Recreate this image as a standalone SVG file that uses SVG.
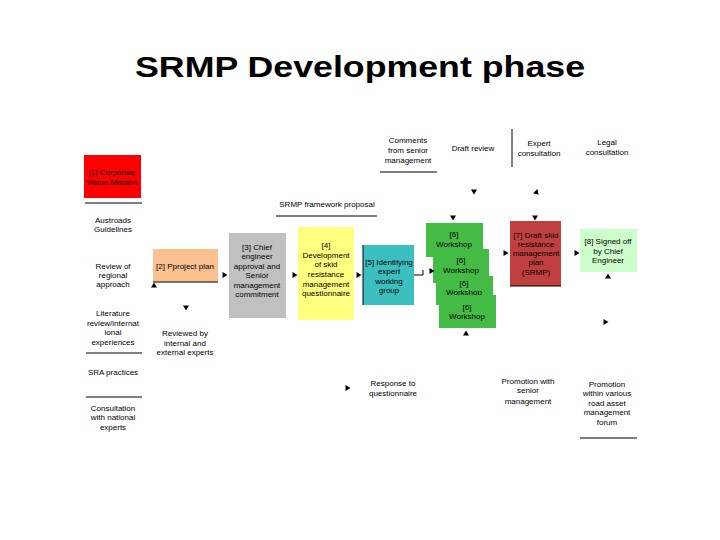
<svg xmlns="http://www.w3.org/2000/svg" xmlns:xlink="http://www.w3.org/1999/xlink" width="720" height="540" viewBox="0 0 720 540">
<style>
text{font-family:"Liberation Sans",Arial,sans-serif;font-size:8px;fill:#000;text-anchor:middle}
.title{font-size:30px;font-weight:bold}
.ln{stroke:#000;stroke-width:1;fill:none}
.ws{fill:#44bb44}
</style>
<defs>
<path id="ad" d="M-3,-2.5 L3,-2.5 L0,2.5 Z" fill="#000"/>
<path id="au" d="M-3,2.5 L3,2.5 L0,-2.5 Z" fill="#000"/>
<path id="ar" d="M-2.5,-3 L-2.5,3 L2.5,0 Z" fill="#000"/>
</defs>
<rect width="720" height="540" fill="#fff"/>
<text class="title" x="360" y="77" textLength="450" lengthAdjust="spacingAndGlyphs">SRMP Development phase</text>

<g id="n1"><rect x="84" y="155" width="57" height="43" fill="#ff0000"/><text x="112" y="175">[1] Corporate</text><text x="112" y="185">Vision Mission</text></g>
<g id="austroads"><text x="113" y="223">Austroads</text><text x="113" y="232">Guidelines</text></g>
<g id="review"><text x="113" y="269">Review of</text><text x="113" y="278">regional</text><text x="113" y="287">approach</text></g>
<g id="lit"><text x="113" y="316">Literature</text><text x="113" y="326">review/internat</text><text x="113" y="335">ional</text><text x="113" y="345">experiences</text></g>
<g id="sra"><text x="113" y="375">SRA practices</text></g>
<g id="consult"><text x="113" y="411">Consultation</text><text x="113" y="420">with national</text><text x="113" y="430">experts</text></g>
<g id="n2"><rect x="153" y="249" width="65" height="33" fill="#fac090"/><text x="185" y="269">[2] Pproject plan</text></g>
<g id="reviewed"><text x="185" y="336">Reviewed by</text><text x="185" y="346">internal and</text><text x="185" y="355">external experts</text></g>
<g id="n3"><rect x="229" y="233" width="57" height="85" fill="#c0c0c0"/><text x="257" y="250">[3] Chief</text><text x="257" y="259">engineer</text><text x="257" y="269">approval and</text><text x="257" y="278">Senior</text><text x="257" y="288">management</text><text x="257" y="297">commitment</text></g>
<g id="n4"><rect x="298" y="227" width="56" height="93" fill="#ffff80"/><text x="326" y="248">[4]</text><text x="326" y="258">Development</text><text x="326" y="267">of skid</text><text x="326" y="277">resistance</text><text x="326" y="287">management</text><text x="326" y="296">questionnaire</text></g>
<g id="framework"><text x="327" y="207">SRMP framework proposal</text></g>
<g id="n5"><rect x="363" y="245" width="51" height="60" fill="#3cbfbf"/><text x="389" y="265">[5] Identifying</text><text x="389" y="274">expert</text><text x="389" y="284">working</text><text x="389" y="293">group</text></g>
<g id="comments"><text x="408" y="143">Comments</text><text x="408" y="153">from senior</text><text x="408" y="163">management</text></g>
<g id="draft"><text x="473" y="151">Draft review</text></g>
<g id="expert"><text x="539" y="146">Expert</text><text x="539" y="156">consultation</text></g>
<g id="legal"><text x="607" y="145">Legal</text><text x="607" y="155">consultation</text></g>
<g id="n6a"><rect class="ws" x="426" y="223" width="57" height="34"/><text x="454" y="237">[6]</text><text x="454" y="247">Workshop</text></g>
<g id="n6b"><rect class="ws" x="433" y="249" width="56" height="34"/><text x="461" y="263">[6]</text><text x="461" y="273">Workshop</text></g>
<g id="n6c"><rect class="ws" x="436" y="276" width="57" height="29"/><text x="464" y="286">[6]</text><text x="464" y="295">Workshop</text></g>
<g id="n6d"><rect class="ws" x="439" y="295" width="57" height="33"/><text x="467" y="310">[6]</text><text x="467" y="319">Workshop</text></g>
<g id="n7"><rect x="510" y="221" width="51" height="65" fill="#c0403f"/><text x="536" y="238">[7] Draft skid</text><text x="536" y="247">resistance</text><text x="536" y="256">management</text><text x="536" y="265">plan</text><text x="536" y="275">(SRMP)</text></g>
<g id="n8"><rect x="580" y="229" width="57" height="43" fill="#ccffcc"/><text x="608" y="244">[8] Signed off</text><text x="608" y="254">by Chief</text><text x="608" y="263">Engineer</text></g>
<g id="response"><text x="393" y="386">Response to</text><text x="393" y="396">questionnaire</text></g>
<g id="promo1"><text x="528" y="384">Promotion with</text><text x="528" y="393">senior</text><text x="528" y="404">management</text></g>
<g id="promo2"><text x="607" y="387">Promotion</text><text x="607" y="396">within various</text><text x="607" y="406">road asset</text><text x="607" y="415">management</text><text x="607" y="425">forum</text></g>

<g id="connectors">
<line class="ln" x1="85" y1="203" x2="142" y2="203"/>
<line class="ln" x1="86" y1="353" x2="142" y2="353"/>
<line class="ln" x1="86" y1="397" x2="142" y2="397"/>
<line class="ln" x1="153" y1="282" x2="218" y2="282"/>
<line class="ln" x1="276" y1="216" x2="377" y2="216"/>
<line class="ln" x1="380" y1="172" x2="437" y2="172"/>
<line class="ln" x1="512" y1="129" x2="512" y2="167"/>
<line class="ln" x1="363" y1="245" x2="363" y2="305"/>
<line class="ln" x1="510" y1="286" x2="561" y2="286"/>
<line class="ln" x1="580" y1="438" x2="637" y2="438"/>
<polyline class="ln" points="414,275 423,275 423,270"/>
<use xlink:href="#ad" x="186" y="308"/>
<use xlink:href="#ad" x="474" y="192"/>
<use xlink:href="#ad" x="453" y="218"/>
<use xlink:href="#ad" x="535" y="218"/>
<use xlink:href="#au" x="154" y="285"/>
<use xlink:href="#au" x="466" y="333"/>
<use xlink:href="#au" x="608" y="276"/>
<use xlink:href="#ar" x="225" y="275"/>
<use xlink:href="#ar" x="295" y="275"/>
<use xlink:href="#ar" x="359" y="275"/>
<use xlink:href="#ar" x="432" y="271"/>
<use xlink:href="#ar" x="506" y="253"/>
<use xlink:href="#ar" x="577" y="253"/>
<use xlink:href="#ar" x="606" y="322"/>
<use xlink:href="#ar" x="348" y="388"/>
<use xlink:href="#ad" transform="translate(537,193) rotate(-45)"/>
</g>
</svg>
